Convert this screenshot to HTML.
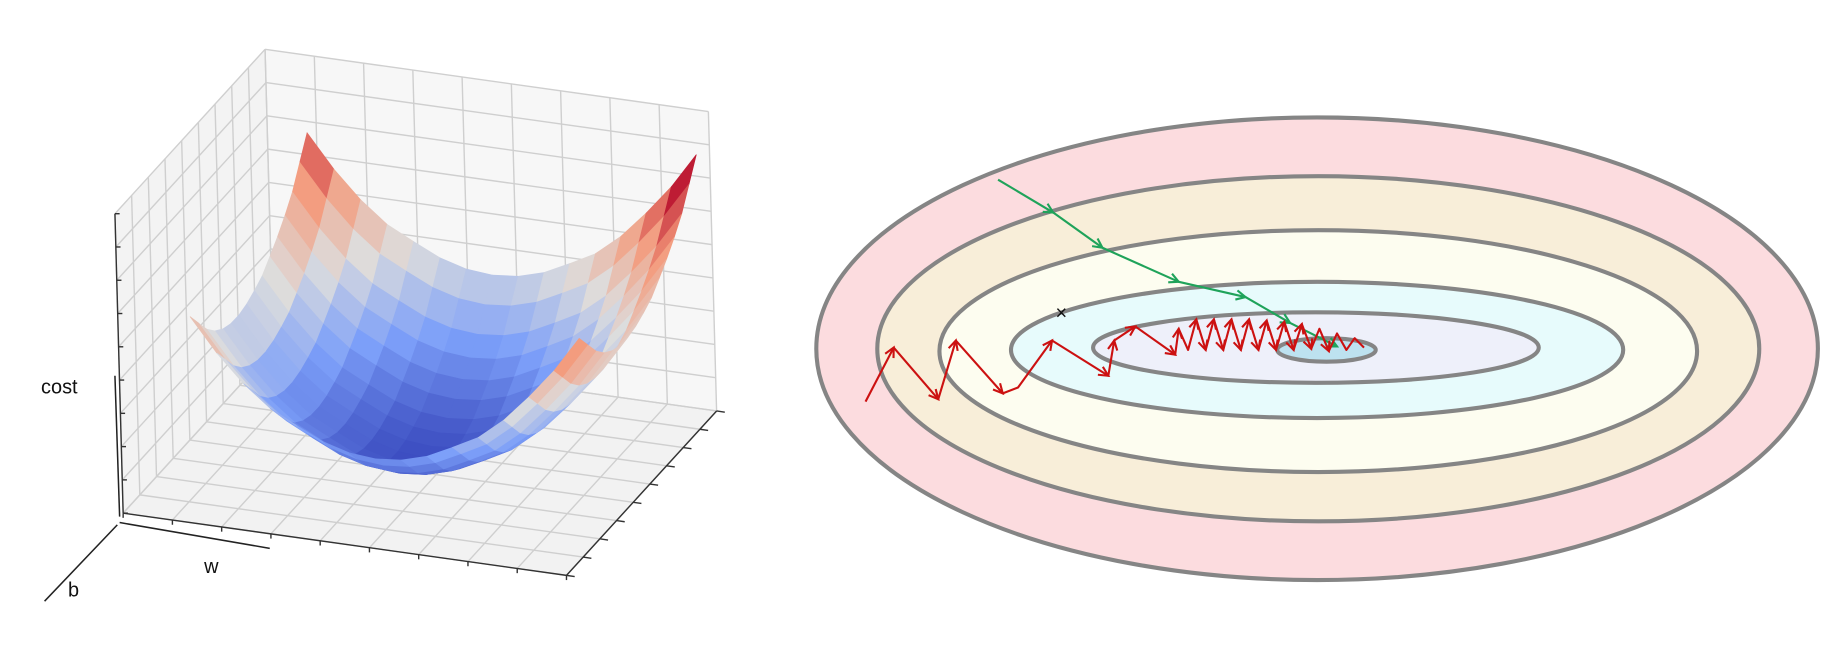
<!DOCTYPE html>
<html><head><meta charset="utf-8"><style>
html,body{margin:0;padding:0;background:#fff;width:1839px;height:647px;overflow:hidden}
svg{display:block}
text{font-family:"Liberation Sans",sans-serif}
</style></head><body>
<svg id="svg" width="1839" height="647" viewBox="0 0 1568 551" preserveAspectRatio="none">
<rect width="1568" height="551" fill="#fff"/>
<g id="left"></g>
<g id="right"></g>
</svg>
<script>
// ---- surface data ----
const gridN = 16;
const costW = [0.39,0.28,0.19,0.12,0.075,0.033,0.008,0.0,0.008,0.033,0.075,0.12,0.19,0.28,0.38,0.50];
const costB = [0.17,0.12,0.07,0.035,0.013,0.002,0.001,0.009,0.025,0.045,0.08,0.117,0.16,0.21,0.28,0.35];
const zTicks = [0,1,2,3,4,5,6,7,8,9];
// ---- contour data ----
const levelRx = [427,376,323,261,190,42];
const levelRy = [197,147,103,58,30,10];
const levelCx = [1123,1124,1124,1123,1122,1131];
const levelCy = [297,297,299,298,296,298];
const levelFill = ["#fcdcdf","#f8eed9","#fdfdf0","#e7fbfc","#eef0fa","#bde2f0"];
const greenX = [851,898,940,1005,1062,1100,1140];
const greenY = [153,181,211,240,253,275,295];
const redX = [738,762,800,815,855,868,897,945,950,968,1002,1005,1013,1020,1028,1035,1043,1050,1058,1065,1073,1080,1088,1095,1103,1110,1118,1125,1133,1140,1148,1155,1163];
const redY = [342,296,340,290,335,330,290,320,290,278,302,280,298,272,298,272,298,272,298,272,298,273,298,274,298,276,297,280,299,284,298,288,296];

const NS='http://www.w3.org/2000/svg';
function mk(tag,attrs,parent){const e=document.createElementNS(NS,tag);for(const k in attrs)e.setAttribute(k,attrs[k]);parent.appendChild(e);return e;}
const L=document.getElementById('left'), R=document.getElementById('right');

function P(u,v,z){return [105+u*378+v*128-z*7, 437+u*53-v*140-z*255];}
function pts(a){return a.map(p=>p.join(',')).join(' ');}
const pane1=mk('polygon',{points:pts([P(0,0,0),P(0,1,0),P(0,1,1),P(0,0,1)]),fill:'#f3f3f3',stroke:'none'},L);

const pane2=mk('polygon',{points:pts([P(0,1,0),P(1,1,0),P(1,1,1),P(0,1,1)]),fill:'#f7f7f7',stroke:'none'},L);

const pane3=mk('polygon',{points:pts([P(0,0,0),P(1,0,0),P(1,1,0),P(0,1,0)]),fill:'#f2f2f2',stroke:'none'},L);

function line(a,b,c,w,name){const e=mk('line',{x1:a[0],y1:a[1],x2:b[0],y2:b[1],stroke:c,'stroke-width':w},L);return e;}
for(let k=0;k<=9;k++){const t=k/9;
 line(P(t,1,0),P(t,1,1),'#cfcfcf',1.2,'grid-line');
 line(P(0,1,t),P(1,1,t),'#cfcfcf',1.2,'grid-line');
 line(P(0,t,0),P(0,t,1),'#cfcfcf',1.2,'grid-line');
 line(P(0,0,t),P(0,1,t),'#cfcfcf',1.2,'grid-line');
 line(P(t,0,0),P(t,1,0),'#cfcfcf',1.2,'grid-line');
 line(P(0,t,0),P(1,t,0),'#cfcfcf',1.2,'grid-line');
}
line(P(0,0,0),P(1,0,0),'#333',1.2,'w-axis-edge');
line(P(1,0,0),P(1,1,0),'#333',1.2,'b-axis-edge');
line(P(0,0,0),P(0,0,1),'#333',1.2,'cost-axis-edge');
for(let k=0;k<=9;k++){const t=k/9;
 const a=P(1,t,0);line(a,[a[0]+7,a[1]+1],'#333',1.2,'b-tick');
 const c=P(0,0,zTicks[k]/9);line(c,[c[0]+4,c[1]],'#333',1.2,'cost-tick');
 const d=P(t,0,0);line(d,[d[0],d[1]+4],'#333',1.2,'w-tick');
}
function cmap(t){t=Math.max(0,Math.min(1,t));
 const s=[[0,[59,76,192]],[0.25,[124,159,249]],[0.5,[221,221,221]],[0.75,[244,154,123]],[1,[180,4,38]]];
 for(let i=0;i<s.length-1;i++){if(t<=s[i+1][0]){const f=(t-s[i][0])/(s[i+1][0]-s[i][0]);const a=s[i][1],b=s[i+1][1];return 'rgb('+a.map((x,j)=>Math.round(x+(b[j]-x)*f)).join(',')+')';}}return 'rgb(180,4,38)';}
const u0=0.09,u1=0.97,v0=0.21,v1=1.0;
function S(i,j){const u=u0+(u1-u0)*i/(gridN-1),v=v0+(v1-v0)*j/(gridN-1);return P(u,v,costW[i]+costB[j]);}
const zmin=0,zmax=Math.max(...costW)+Math.max(...costB);
for(let j=gridN-2;j>=0;j--){for(let i=0;i<gridN-1;i++){
 const z=(costW[i]+costW[i+1]+costB[j]+costB[j+1])/2;
 const col=cmap((z-zmin)/(zmax-zmin)*1.08);
 const q=mk('polygon',{points:pts([S(i,j),S(i+1,j),S(i+1,j+1),S(i,j+1)]),fill:col,stroke:col,'stroke-width':0.6},L);
 
}}
line([98,320],[102,440],'#222',1.3,'cost-axis-line');
line([102,445],[230,467],'#222',1.3,'w-axis-line');
line([100,447],[38,512],'#222',1.3,'b-axis-line');
function txt(x,y,s,name,p){const e=mk('text',{x:x,y:y,'font-size':17,fill:'#111'},p);e.textContent=s;}
txt(35,335,'cost','cost-axis-title',L);
txt(174,488,'w','w-axis-title',L);
txt(58,508,'b','b-axis-title',L);

for(let k=0;k<levelRx.length;k++){
 const e=mk('ellipse',{cx:levelCx[k],cy:levelCy[k],rx:levelRx[k],ry:levelRy[k],fill:levelFill[k],stroke:'#858585','stroke-width':3.5},R);
 
}
function path(xs,ys,col,name){
 const d=xs.map((x,i)=>(i?'L':'M')+x+','+ys[i]).join(' ');
 const e=mk('path',{d:d,fill:'none',stroke:col,'stroke-width':1.8,'stroke-linejoin':'round'},R);
 
 for(let i=1;i<xs.length;i++){const dx=xs[i]-xs[i-1],dy=ys[i]-ys[i-1],l=Math.hypot(dx,dy)||1,ux=dx/l,uy=dy/l;
  if(l<20)continue;
  const x=xs[i],y=ys[i],s=8;
  const a=mk('path',{d:`M${x-s*ux-s*0.5*uy},${y-s*uy+s*0.5*ux} L${x},${y} L${x-s*ux+s*0.5*uy},${y-s*uy-s*0.5*ux}`,fill:'none',stroke:col,'stroke-width':1.8},R);
  }
}
path(greenX,greenY,'#1fa35a','momentum-path');
path(redX,redY,'#cc1111','gradient-descent-path');
txt(900,272,'×','minimum-marker',R);
</script>
</body></html>
